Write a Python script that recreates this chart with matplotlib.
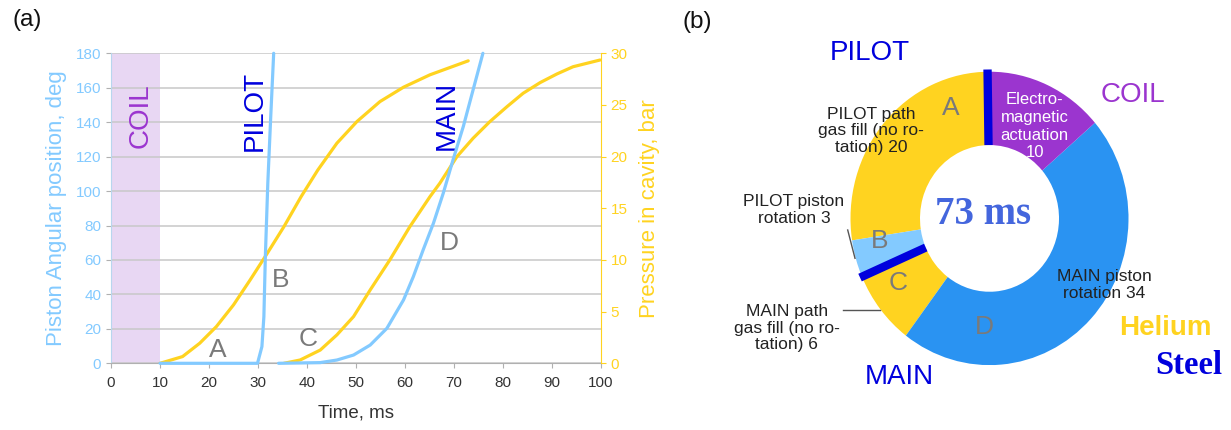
import matplotlib
matplotlib.use("Agg")
import matplotlib.pyplot as plt
import numpy as np

plt.rcParams['font.family'] = ['Liberation Sans', 'DejaVu Sans']

# ---- panel (a): piston angle (deg) and cavity pressure (bar) vs time (ms)
pilot_angle_t = [10, 29.9, 30.8, 31.2, 31.5, 32.0, 32.6, 33.2]
pilot_angle = [0, 0, 9.7, 27.1, 62, 104.5, 143.3, 180]

main_angle_t = [34.2, 42.7, 46.1, 49.5, 52.9, 56.3, 59.7, 61.7, 63.7, 65.8, 67.8, 69.8, 71.9, 73.9, 75.9]
main_angle = [0, 0.4, 1.9, 4.8, 10.6, 20.3, 36.8, 50.3, 65.8, 81.3, 98.7, 118.1, 137.5, 158.8, 180]

pilot_press_t = [10, 10.5, 14.6, 18.1, 21.5, 25.0, 28.4, 31.9, 35.3, 38.8, 42.2, 46.1,
                 50.2, 54.9, 59.7, 65.1, 72.9]
pilot_press = [0, 0.07, 0.65, 1.94, 3.55, 5.65, 8.07, 10.65, 13.23, 16.13, 18.7, 21.3,
               23.4, 25.33, 26.72, 27.92, 29.27]

main_press_t = [35.3, 38.6, 42.7, 46.1, 49.5, 52.9, 56.9, 61.0, 65.1, 67.1, 70.6, 73.9,
                77.3, 80.8, 84.1, 87.6, 91.0, 94.3, 99.8]
main_press = [0, 0.32, 1.28, 2.75, 4.52, 7.1, 10.0, 13.23, 16.13, 17.42, 20.0, 21.78,
              23.38, 24.83, 26.13, 27.17, 28.0, 28.7, 29.35]

coil_span = (0, 10)

# ---- panel (b): time budget, ms (counter-clockwise from top)
stage_ms = [20, 3, 6, 34, 10]
stage_colors = ["#FFD320", "#83CAFF", "#FFD320", "#2A93F2", "#9B35CF"]

LIGHTBLUE = "#83CAFF"
YELLOW = "#FFD320"
DARKBLUE = "#0000DD"
PURPLE = "#9B35CF"
GRAY = "#7a7a7a"

fig = plt.figure(figsize=(12.31, 4.30), dpi=100)
W, H = 1231, 430

ax = fig.add_axes([111 / W, (430 - 363.3) / H, 490 / W, 310 / H])
ax.set_xlim(0, 100)
ax.set_ylim(0, 180)
ax.axvspan(*coil_span, color="#E8D7F3", zorder=0, lw=0)
ax.set_axisbelow(True)
ax.yaxis.grid(True, color="#c8c8c8", lw=1.1)
ax.set_xticks(range(0, 101, 10))
ax.set_yticks(range(0, 181, 20))
ax.tick_params(axis="x", colors="#b0b0b0", labelcolor="#333333", labelsize=11, pad=6)
ax.tick_params(axis="y", colors="#b0b0b0", labelcolor=LIGHTBLUE, labelsize=11)
for s in ["top", "right"]:
    ax.spines[s].set_visible(False)
ax.spines["left"].set_color("#b8d6ee")
ax.spines["bottom"].set_color("#b0b0b0")
ax.set_xlabel("Time, ms", fontsize=13.5, color="#333333", labelpad=10)
ax.set_ylabel("Piston Angular position, deg", fontsize=16, color=LIGHTBLUE, labelpad=6)

axr = ax.twinx()
axr.set_ylim(0, 30)
axr.set_yticks(range(0, 31, 5))
axr.tick_params(axis="y", colors=YELLOW, labelcolor=YELLOW, labelsize=11)
for s in ["top", "left", "bottom"]:
    axr.spines[s].set_visible(False)
axr.spines["right"].set_color(YELLOW)
axr.set_ylabel("Pressure in cavity, bar", fontsize=16, color=YELLOW, labelpad=8)

line_kw = dict(lw=2.3, solid_capstyle="round", solid_joinstyle="round")
axr.plot(pilot_press_t, pilot_press, color=YELLOW, **line_kw)
axr.plot(main_press_t, main_press, color=YELLOW, **line_kw)
# angle traces drawn on the pressure axis: 180 deg <-> 30 bar
axr.plot(pilot_angle_t, np.array(pilot_angle) / 6, color=LIGHTBLUE, clip_on=False, **line_kw)
axr.plot(main_angle_t, np.array(main_angle) / 6, color=LIGHTBLUE, clip_on=False, **line_kw)

ax.text(6.0, 143.7, "COIL", rotation=90, color=PURPLE, fontsize=20, ha="center", va="center")
ax.text(29.4, 146.6, "PILOT", rotation=90, color=DARKBLUE, fontsize=20, ha="center", va="center")
ax.text(68.5, 144.2, "MAIN", rotation=90, color=DARKBLUE, fontsize=20, ha="center", va="center")
for lab, x, y in [("A", 21.7, 7.7), ("B", 34.6, 48.4), ("C", 40.3, 14.1), ("D", 69.0, 69.7)]:
    ax.text(x, y, lab, color=GRAY, fontsize=19, ha="center", va="center")

# ---- donut (slightly taller than wide, as in the original)
cx, cy, rx, ry = 989.5, 218.4, 139, 146.7
ax2 = fig.add_axes([(cx - rx) / W, (430 - cy - ry) / H, 2 * rx / W, 2 * ry / H])
ax2.pie(stage_ms, colors=stage_colors, startangle=90, counterclock=True, radius=1,
        wedgeprops=dict(width=0.5, edgecolor="none"))
ax2.set_aspect("auto")
ax2.set_xlim(-1, 1)
ax2.set_ylim(-1, 1)
ax2.axis("off")


def P(px, py):
    return (px - cx) / rx, (cy - py) / ry


total = sum(stage_ms)
steel_angles = [90.8, 90 + (stage_ms[0] + stage_ms[1]) / total * 360]
for a in steel_angles:
    t = np.deg2rad(a)
    ax2.plot([0.5 * np.cos(t), 1.015 * np.cos(t)], [0.5 * np.sin(t), 1.015 * np.sin(t)],
             color=DARKBLUE, lw=6, solid_capstyle="butt", clip_on=False)

ax2.text(*P(1034.7, 126.2), "Electro-\nmagnetic\nactuation\n10", color="white",
         fontsize=12, ha="center", va="center", linespacing=1.22)
ax2.text(*P(871.2, 130.8), "PILOT path\ngas fill (no ro-\ntation) 20", color="#222222",
         fontsize=12.5, ha="center", va="center", linespacing=1.15)
ax2.text(*P(794, 210), "PILOT piston\nrotation 3", color="#222222",
         fontsize=12.5, ha="center", va="center", linespacing=1.15)
ax2.text(*P(786.7, 328), "MAIN path\ngas fill (no ro-\ntation) 6", color="#222222",
         fontsize=12.5, ha="center", va="center", linespacing=1.15)
ax2.text(*P(1104, 285.3), "MAIN piston\nrotation 34", color="#222222",
         fontsize=12.5, ha="center", va="center", linespacing=1.15)

for lab, px, py in [("A", 950.7, 108.3), ("B", 879.3, 240.7), ("C", 898.3, 282.7), ("D", 984, 326.7)]:
    ax2.text(*P(px, py), lab, color=GRAY, fontsize=19, ha="center", va="center")

ax2.plot(*zip(P(847.7, 230), P(855, 258.3)), color="#555555", lw=1, clip_on=False)
ax2.plot(*zip(P(843.3, 310), P(880, 310)), color="#555555", lw=1, clip_on=False)

ax2.text(*P(983.5, 215), "73 ms", color="#4466DD", fontsize=28, fontweight="bold",
         family=["Liberation Serif", "DejaVu Serif"], ha="center", va="center")
ax2.text(*P(869.5, 53.3), "PILOT", color=DARKBLUE, fontsize=20, ha="center", va="center")
ax2.text(*P(1132.6, 95), "COIL", color=PURPLE, fontsize=20, ha="center", va="center")
ax2.text(*P(899, 377.3), "MAIN", color=DARKBLUE, fontsize=20, ha="center", va="center")
ax2.text(*P(1165, 328), "Helium", color=YELLOW, fontsize=20, fontweight="bold",
         ha="center", va="center")
ax2.text(*P(1189, 366), "Steel", color=DARKBLUE, fontsize=23.5, fontweight="bold",
         family=["Liberation Serif", "DejaVu Serif"], ha="center", va="center")

fig.text(26.7 / W, 1 - 20 / H, "(a)", fontsize=17.5, ha="center", va="center", color="#111111")
fig.text(697 / W, 1 - 22 / H, "(b)", fontsize=17.5, ha="center", va="center", color="#111111")

fig.savefig("out.png", dpi=100)
